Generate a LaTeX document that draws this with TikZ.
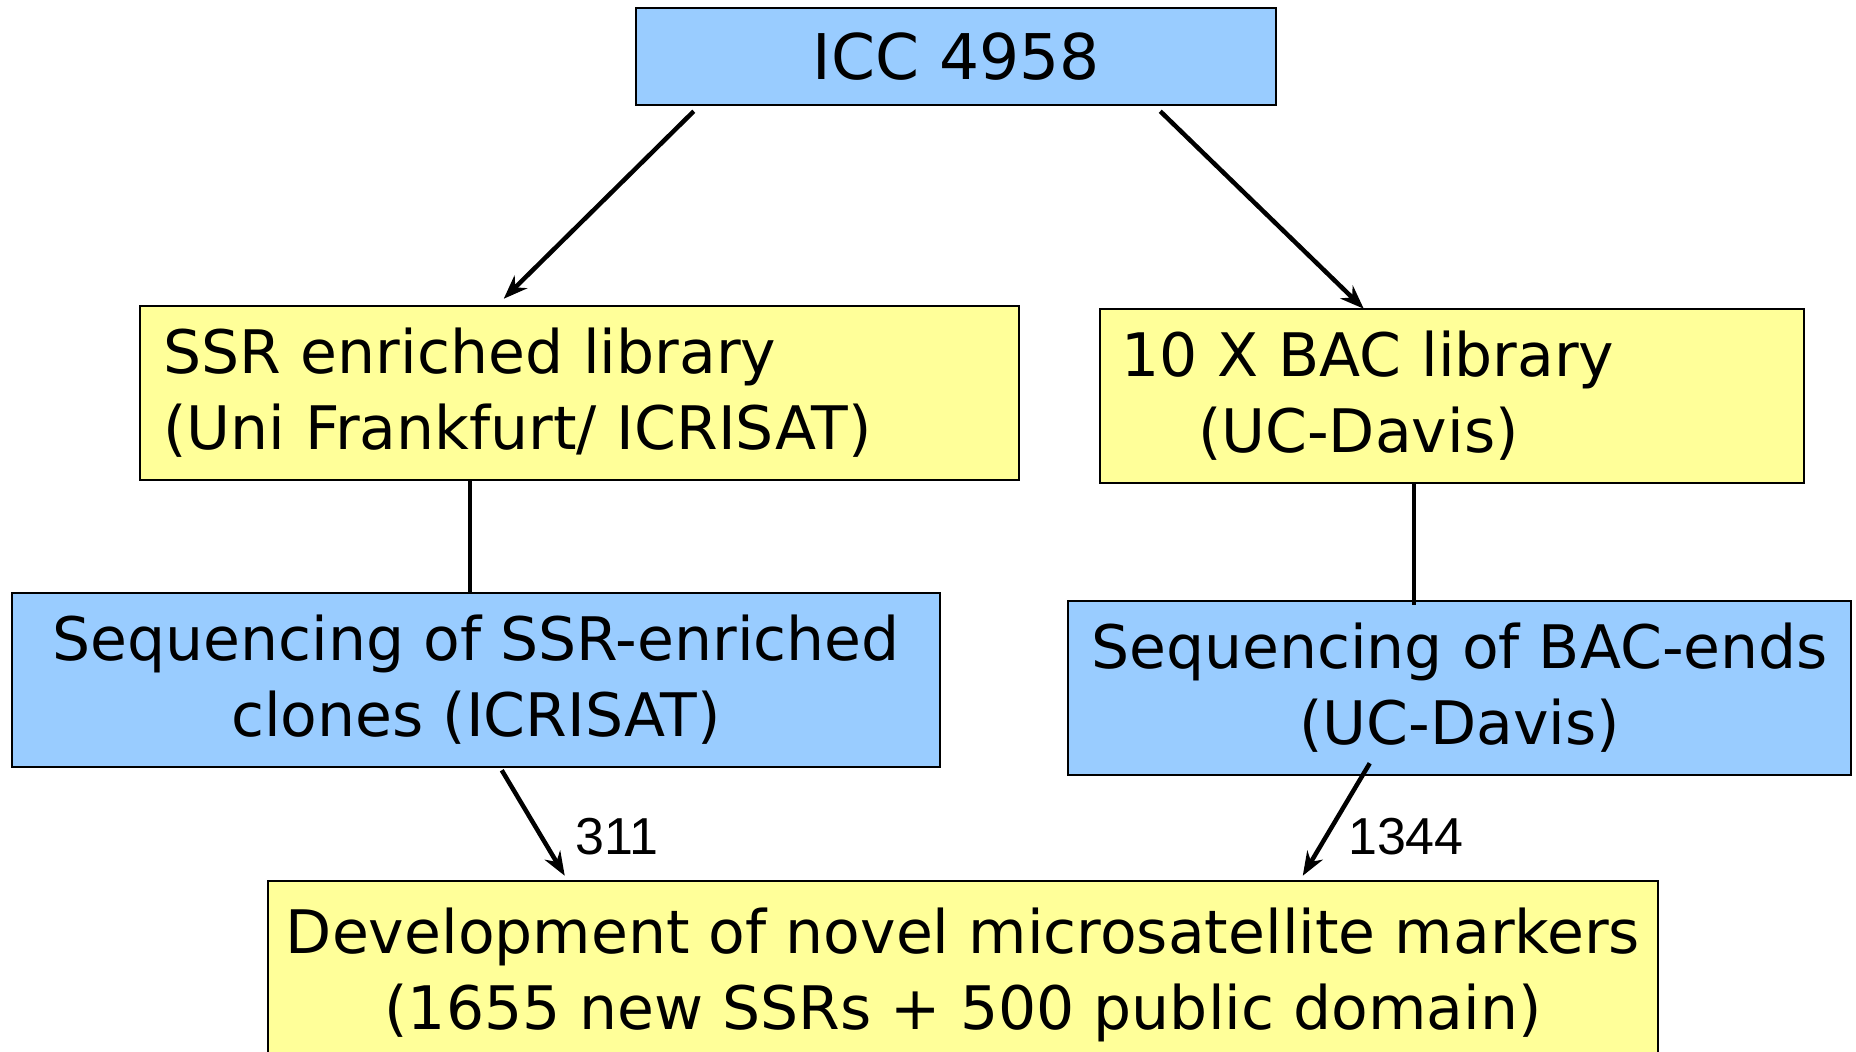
\documentclass[tikz,border=0pt]{standalone}
\usepackage{fontspec}
\setmainfont{DejaVu Sans}
\newfontfamily\labfont{Liberation Sans}
\usetikzlibrary{arrows.meta}
\definecolor{boxblue}{HTML}{99CCFF}
\definecolor{boxyellow}{HTML}{FFFF99}
\tikzset{
  boxbase/.style={draw=black, line width=2.5pt, inner sep=0pt, font=\fontsize{60}{76}\selectfont, text=black},
  bluebox/.style={boxbase, fill=boxblue},
  yellowbox/.style={boxbase, fill=boxyellow},
  conn/.style={line width=4.5pt, black},
  arr/.style={conn, -{Stealth[length=24pt,width=18pt]}},
  numlab/.style={font=\labfont\fontsize{52}{54}\selectfont, inner sep=0pt}
}
\begin{document}
\begin{tikzpicture}[x=1pt,y=-1pt]
\clip (0,0) rectangle (1856,1052);
\fill[white] (0,0) rectangle (1856,1052);
% top
\node[bluebox, minimum width=640pt, minimum height=97pt, font=\fontsize{63}{76}\selectfont] (icc) at (956,56.5) {ICC 4958};
% second row
\node[yellowbox, minimum width=879pt, minimum height=174pt, text width=833pt, align=left] (ssr) at (579.5,393) {SSR enriched library\\(Uni Frankfurt/ ICRISAT)};
\node[yellowbox, minimum width=704pt, minimum height=174pt, text width=662pt, align=left] (bac) at (1452,396) {10 X BAC library\\\hspace*{77pt}(UC-Davis)};
% third row
\node[bluebox, minimum width=928pt, minimum height=174pt, align=center] (seq1) at (476,680) {Sequencing of SSR-enriched\\clones (ICRISAT)};
\node[bluebox, minimum width=783pt, minimum height=174pt, align=center] (seq2) at (1459.5,688) {Sequencing of BAC-ends\\(UC-Davis)};
% bottom
\node[yellowbox, minimum width=1390pt, minimum height=188pt, align=center] (dev) at (963,975) {Development of novel microsatellite markers\\(1655 new SSRs + 500 public domain)};
% connectors
\draw[arr] ([xshift=59pt,yshift=-5pt]icc.south west) -- ([xshift=365pt,yshift=6pt]ssr.north west);
\draw[arr] ([xshift=-117pt,yshift=-5pt]icc.south east) -- ([xshift=265pt,yshift=-1pt]bac.north west);
\draw[conn] ([xshift=331pt]ssr.south west) -- ([xshift=459pt]seq1.north west);
\draw[conn] ([xshift=315pt]bac.south west) -- ([xshift=347pt,yshift=-5pt]seq2.north west);
\draw[arr] ([xshift=491pt,yshift=-2pt]seq1.south west) -- ([xshift=298pt,yshift=4pt]dev.north west);
\draw[arr] ([xshift=303pt,yshift=13pt]seq2.south west) -- ([xshift=1036pt,yshift=4pt]dev.north west);
\node[numlab] (n311) at (617,837) {311};
\node[numlab] (n1344) at (1406,837) {1344};
\end{tikzpicture}
\end{document}
